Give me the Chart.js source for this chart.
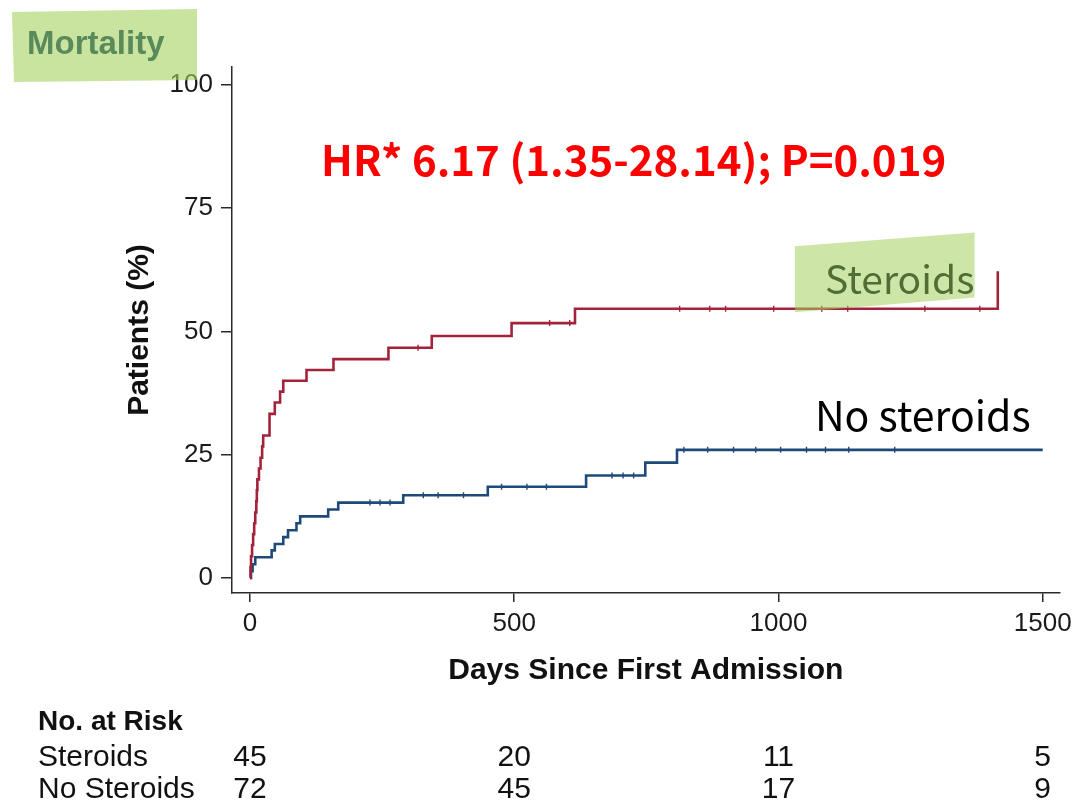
<!DOCTYPE html>
<html lang="en">
<head>
<meta charset="UTF-8">
<title>Mortality</title>
<script src="https://cdn.jsdelivr.net/npm/chart.js"></script>
<style>
  html, body { margin: 0; padding: 0; background: #fff; }
  #wrap { position: relative; width: 1078px; height: 804px; }
</style>
</head>
<body>
<div id="wrap"><canvas id="km"></canvas></div>
<script>
// cumulative mortality (%) by day
const steroidDays   = [0, 1, 2, 4, 6, 8, 10, 12, 13, 14, 17, 20, 23, 25, 37, 47, 57, 63, 107, 158, 262, 344, 495, 615, 1415];
const steroidPct    = [0, 2.2, 4.4, 6.7, 8.9, 11.1, 13.3, 15.6, 17.8, 20.0, 22.2, 24.4, 26.7, 28.9, 33.3, 35.6, 37.8, 40.0, 42.2, 44.4, 46.7, 49.1, 51.7, 54.6, 62.2];
const noSteroidDays = [0, 2, 5, 10, 41, 47, 63, 72, 88, 95, 148, 167, 290, 450, 636, 748, 808, 1500];
const noSteroidPct  = [0, 1.4, 2.8, 4.2, 5.6, 6.9, 8.3, 9.7, 11.1, 12.5, 13.9, 15.3, 16.8, 18.5, 20.8, 23.4, 26.0, 26.0];

// censoring ticks
const steroidCensorDays   = [318, 567, 605, 813, 870, 900, 991, 1082, 1131, 1277, 1381];
const noSteroidCensorDays = [227, 246, 265, 328, 356, 404, 476, 524, 561, 685, 706, 726, 821, 866, 915, 957, 1004, 1053, 1089, 1133, 1220];

// number at risk table
const riskDays       = [0, 500, 1000, 1500];
const riskSteroids   = [45, 20, 11, 5];
const riskNoSteroids = [72, 45, 17, 9];

const xTicks = [0, 500, 1000, 1500];
const yTicks = [0, 25, 50, 75, 100];

const RED = '#a3233a';
const BLUE = '#1d4a78';
const AXIS = '#2a2a2a';
const SANS = "'Liberation Sans', Arial, sans-serif";
const KR = "'Noto Sans CJK KR', 'Noto Sans', sans-serif";

function stepAt(days, pct, t) {
  let v = pct[0];
  for (let i = 0; i < days.length; i++) {
    if (days[i] <= t) v = pct[i];
  }
  return v;
}

const kmLabels = {
  id: 'kmLabels',
  afterDraw(chart) {
    const ctx = chart.ctx;
    const xs = chart.scales.x;
    const ys = chart.scales.y;
    const px = v => xs.getPixelForValue(v);
    const py = v => ys.getPixelForValue(v);
    ctx.save();

    // highlighter behind "Steroids"
    ctx.fillStyle = 'rgba(164,210,94,0.55)';
    ctx.beginPath();
    ctx.moveTo(px(1031), py(67.3));
    ctx.lineTo(px(1371), py(70.1));
    ctx.lineTo(px(1371), py(56.9));
    ctx.lineTo(px(1031), py(53.9));
    ctx.closePath();
    ctx.fill();

    ctx.textBaseline = 'alphabetic';
    ctx.textAlign = 'left';
    ctx.font = '39px ' + KR;
    ctx.fillStyle = '#4f6d35';
    ctx.fillText('Steroids', px(1088), py(57.7));
    ctx.font = '41px ' + KR;
    ctx.fillStyle = '#000';
    ctx.fillText('No steroids', px(1069), py(29.9));

    ctx.textAlign = 'center';
    ctx.font = 'bold 42px ' + KR;
    ctx.fillStyle = '#ff0000';
    ctx.fillText('HR* 6.17 (1.35-28.14); P=0.019', px(726), py(81.5));

    // "Mortality" tag
    ctx.fillStyle = 'rgba(164,210,94,0.6)';
    ctx.beginPath();
    ctx.moveTo(12, 12);
    ctx.lineTo(197, 9);
    ctx.lineTo(197, 80);
    ctx.lineTo(14, 82);
    ctx.closePath();
    ctx.fill();
    ctx.textAlign = 'left';
    ctx.textBaseline = 'middle';
    ctx.font = 'bold 33px ' + SANS;
    ctx.fillStyle = '#5a8a5c';
    ctx.fillText('Mortality', 27, 45);

    // number at risk
    ctx.fillStyle = '#111';
    ctx.font = 'bold 28px ' + SANS;
    ctx.fillText('No. at Risk', 38, 722);
    ctx.font = '30px ' + SANS;
    ctx.fillText('Steroids', 38, 758);
    ctx.fillText('No Steroids', 38, 790);
    ctx.textAlign = 'center';
    riskDays.forEach((d, i) => {
      ctx.fillText(String(riskSteroids[i]), px(d), 758);
      ctx.fillText(String(riskNoSteroids[i]), px(d), 790);
    });
    ctx.restore();
  }
};

const tickFont = { family: SANS, size: 26 };
const titleFont = { family: SANS, size: 30, weight: 'bold' };

new Chart(document.getElementById('km'), {
  type: 'line',
  data: {
    datasets: [
      {
        label: 'Steroids',
        data: steroidDays.map((d, i) => ({ x: d, y: steroidPct[i] })),
        borderColor: RED,
        borderWidth: 2.6,
        stepped: true,
        pointRadius: 0,
        fill: false
      },
      {
        label: 'No steroids',
        data: noSteroidDays.map((d, i) => ({ x: d, y: noSteroidPct[i] })),
        borderColor: BLUE,
        borderWidth: 2.6,
        stepped: true,
        pointRadius: 0,
        fill: false
      },
      {
        type: 'scatter',
        label: 'Steroids censored',
        data: steroidCensorDays.map(d => ({ x: d, y: stepAt(steroidDays, steroidPct, d) })),
        pointStyle: 'line',
        pointRotation: 90,
        pointRadius: 3,
        pointBorderColor: RED,
        pointBorderWidth: 1.4
      },
      {
        type: 'scatter',
        label: 'No steroids censored',
        data: noSteroidCensorDays.map(d => ({ x: d, y: stepAt(noSteroidDays, noSteroidPct, d) })),
        pointStyle: 'line',
        pointRotation: 90,
        pointRadius: 3,
        pointBorderColor: BLUE,
        pointBorderWidth: 1.4
      }
    ]
  },
  options: {
    responsive: true,
    maintainAspectRatio: false,
    animation: false,
    layout: { padding: { left: 112, top: 67, right: 18, bottom: 111 } },
    plugins: { legend: { display: false }, tooltip: { enabled: false } },
    scales: {
      x: {
        type: 'linear',
        min: -34,
        max: 1532,
        afterBuildTicks: s => { s.ticks = xTicks.map(v => ({ value: v })); },
        afterFit: s => { s.height = 100; },
        ticks: { font: tickFont, color: '#1a1a1a', padding: 6, maxRotation: 0, autoSkip: false, callback: v => String(v) },
        grid: { drawOnChartArea: false, drawTicks: true, tickLength: 9, color: AXIS, lineWidth: 1.5 },
        border: { color: AXIS, width: 1.5 },
        title: { display: true, text: 'Days Since First Admission', font: titleFont, color: '#111', padding: { top: 0, bottom: 4 } }
      },
      y: {
        type: 'linear',
        min: -3.04,
        max: 103.65,
        afterBuildTicks: s => { s.ticks = yTicks.map(v => ({ value: v })); },
        afterFit: s => { s.width = 120; },
        ticks: { font: tickFont, color: '#1a1a1a', padding: 8, autoSkip: false, callback: v => String(v) },
        grid: { drawOnChartArea: false, drawTicks: true, tickLength: 11, color: AXIS, lineWidth: 1.5 },
        border: { color: AXIS, width: 1.5 },
        title: { display: true, text: 'Patients (%)', font: titleFont, color: '#111', padding: { top: 10, bottom: 0 } }
      }
    }
  },
  plugins: [kmLabels]
});
</script>
</body>
</html>
